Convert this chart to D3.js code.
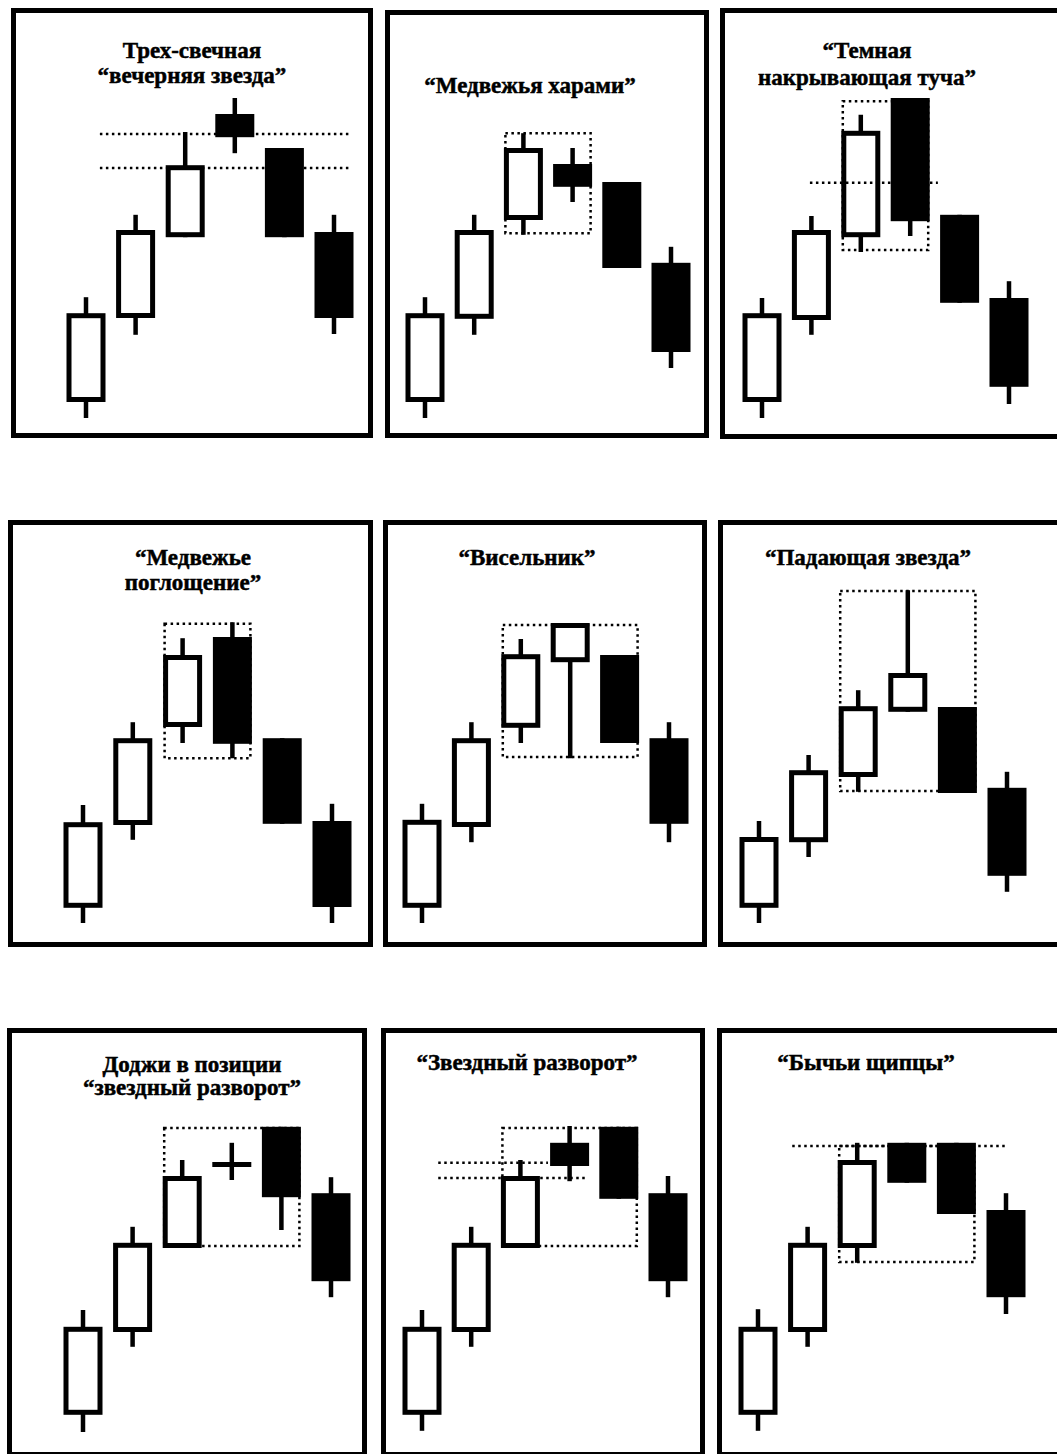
<!DOCTYPE html>
<html>
<head>
<meta charset="utf-8">
<script src="https://cdn.jsdelivr.net/npm/d3@7"></script>
<style>
  body { margin: 0; background: #fff; }
  svg { display: block; }
</style>
</head>
<body>
<div id="chart"></div>
<script>
(function () {

  // titles, one array of lines per panel
  const titles = [
    ['Трех-свечная', '“вечерняя звезда”'],
    ['“Медвежья харами”'],
    ['“Темная', 'накрывающая туча”'],
    ['“Медвежье', 'поглощение”'],
    ['“Висельник”'],
    ['“Падающая звезда”'],
    ['Доджи в позиции', '“звездный разворот”'],
    ['“Звездный разворот”'],
    ['“Бычьи щипцы”']
  ]

  // every candle is [open, high, low, close]
  const eveningStar = [[9, 35.2, 5, 31.2], [30, 55.8, 25.8, 52], [50.2, 76.5, 50.2, 68.2], [81, 85, 71.2, 75.2], [72.5, 72.5, 50.2, 50.2], [51.5, 55.8, 26, 30]]
  const bearishHarami = [[9, 35.2, 5, 31.2], [29.8, 55.8, 25.8, 52], [54.5, 76.2, 50.8, 72.5], [68.5, 72.5, 59, 62.8], [64, 64, 42.5, 42.5], [43.8, 47.8, 17.5, 21.5]]
  const darkCloud = [[9, 35, 5, 31.2], [29.5, 55.5, 25.8, 52], [50.2, 80.8, 46.5, 76.8], [85, 85, 50.5, 54.2], [55.8, 55.8, 33.8, 33.8], [35, 39.2, 8.5, 12.8]]
  const bearishEngulfing = [[9.8, 35.5, 6, 31.2], [30.5, 56.2, 26.8, 52.2], [55, 77.2, 51, 73], [77.5, 81.2, 47.2, 50.8], [52.2, 52.2, 30.8, 30.8], [31.5, 35.8, 6, 10]]
  const hangingMan = [[9.8, 35.8, 6, 31.8], [30, 56.2, 26.2, 52.2], [54.8, 77, 51, 73.2], [71.2, 81, 47.2, 81], [73, 73, 51, 51], [52.2, 56.2, 26.2, 30.8]]
  const shootingStar = [[9.8, 31.5, 6, 27.5], [26.2, 48, 22.5, 44.2], [42.5, 64.2, 38.8, 60.2], [58.8, 89.2, 58.8, 68.5], [60, 60, 38.5, 38.5], [39.8, 43.8, 13.8, 17.8]]
  const dojiStar = [[10.8, 37, 6.5, 32.8], [31.5, 57.8, 27.8, 53.8], [52.5, 74.5, 52.5, 70.5], [74, 78.8, 69.5, 74], [82.8, 82.8, 57, 65.2], [66.2, 70.2, 40.2, 44.2]]
  const starReversal = [[10.8, 37, 6.8, 32.8], [31.5, 57.8, 27.8, 53.8], [52.5, 74.5, 52.5, 70.5], [78.8, 83, 69.2, 73], [82.8, 82.8, 64.8, 64.8], [66.2, 70.5, 40.2, 44.2]]
  const tweezersTop = [[10.8, 37.2, 6.8, 32.8], [31.5, 57.8, 27.8, 53.8], [52.5, 78.8, 48.8, 74.5], [78.8, 78.8, 68.8, 68.8], [78.8, 78.8, 61, 61], [62, 66.2, 36, 40.2]]

  const candleSets = [eveningStar, bearishHarami, darkCloud, bearishEngulfing, hangingMan, shootingStar, dojiStar, starReversal, tweezersTop]

  // dotted boxes round the pattern: [first candle, last candle, top price, bottom price]
  const boxes = [null, [2, 3, 76.2, 51.2], [2, 3, 84.2, 47], [2, 3, 80.8, 47.2], [2, 4, 80.5, 47.5], [2, 4, 89, 39], [2, 4, 82.5, 53], [2, 4, 82.5, 53], [2, 4, 78, 49]]

  // dotted levels: [price, from candle, to candle]
  const levels = [
    [[76, 0.28, 5.3], [67.5, 0.28, 5.3]],
    [],
    [[63.8, 0.97, 3.56]],
    [], [], [], [],
    [[73.8, 0.33, 2.56], [70, 0.33, 3.37]],
    [[78, 0.69, 5.02]]
  ]

  // where the panels sit on the page
  const layout = [
    { frame: [11, 373, 8, 438], cx: [86, 334], base: 438, tx: 192, ty: [58, 83] },
    { frame: [385, 709, 10, 438], cx: [425, 671], base: 438, tx: 530, ty: [93] },
    { frame: [720, 1075, 8, 439], cx: [762, 1009], base: 438, tx: 867, ty: [58, 85] },
    { frame: [8, 373, 520, 947], cx: [83, 332], base: 947, tx: 193, ty: [565, 590] },
    { frame: [383, 707, 520, 947], cx: [422, 669], base: 947, tx: 527, ty: [565] },
    { frame: [718, 1075, 520, 947], cx: [759, 1007], base: 947, tx: 868, ty: [565] },
    { frame: [7, 367, 1028, 1457], cx: [83, 331], base: 1458, tx: 192, ty: [1072, 1095] },
    { frame: [381, 705, 1028, 1457], cx: [422, 668], base: 1458, tx: 527, ty: [1070] },
    { frame: [717, 1075, 1028, 1457], cx: [758, 1006], base: 1458, tx: 866, ty: [1070] }
  ]

  const width = 1057
  const height = 1454
  const bodyWidth = 39
  const border = 5

  const svg = d3.select('#chart').append('svg')
    .attr('width', width)
    .attr('height', height)

  layout.forEach((p, i) => {
    const g = svg.append('g')

    // one price unit is 4px, counted up from the bottom of the row
    const yScale = d3.scaleLinear()
      .domain([0, 100])
      .range([p.base, p.base - 400])

    const xScale = d3.scaleLinear()
      .domain([0, 5])
      .range(p.cx)

    // thick frame
    g.append('rect')
      .attr('x', p.frame[0] + border / 2)
      .attr('y', p.frame[2] + border / 2)
      .attr('width', p.frame[1] - p.frame[0] - border)
      .attr('height', p.frame[3] - p.frame[2] - border)
      .attr('fill', '#fff')
      .attr('stroke', '#000')
      .attr('stroke-width', border)

    // the scan's lettering is heavy, so a thin stroke thickens it a bit
    g.selectAll('text.title')
      .data(titles[i])
      .join('text')
      .attr('class', 'title')
      .attr('x', p.tx)
      .attr('y', (d, j) => p.ty[j])
      .attr('text-anchor', 'middle')
      .attr('font-family', '"Liberation Serif", "Times New Roman", serif')
      .attr('font-weight', 'bold')
      .attr('font-size', 23)
      .attr('stroke', '#000')
      .attr('stroke-width', 0.5)
      .text(d => d)

    // box behind the candles
    const box = boxes[i]
    if (box) {
      g.append('rect')
        .attr('x', xScale(box[0]) - 18)
        .attr('y', yScale(box[2]))
        .attr('width', xScale(box[1]) - xScale(box[0]) + 36)
        .attr('height', yScale(box[3]) - yScale(box[2]))
        .attr('fill', 'none')
        .attr('stroke', '#000')
        .attr('stroke-width', 2.5)
        .attr('stroke-dasharray', '2.5,3.5')
    }

    const data = candleSets[i]

    g.selectAll('line.wick')
      .data(data)
      .join('line')
      .attr('class', 'wick')
      .attr('x1', (d, j) => xScale(j))
      .attr('x2', (d, j) => xScale(j))
      .attr('y1', d => yScale(d[1]))
      .attr('y2', d => yScale(d[2]))
      .attr('stroke', '#000')
      .attr('stroke-width', 4.5)

    // white candles get an outline, black ones are solid
    g.selectAll('rect.body')
      .data(data)
      .join('rect')
      .attr('class', 'body')
      .each(function (d, j) {
        const up = d[3] > d[0]
        const top = yScale(Math.max(d[0], d[3]))
        const h = Math.max(yScale(Math.min(d[0], d[3])) - top, 5)
        const inset = up ? border / 2 : 0
        d3.select(this)
          .attr('x', xScale(j) - bodyWidth / 2 + inset)
          .attr('y', top + inset)
          .attr('width', bodyWidth - inset * 2)
          .attr('height', h - inset * 2)
          .attr('fill', up ? '#fff' : '#000')
          .attr('stroke', up ? '#000' : 'none')
          .attr('stroke-width', up ? border : 0)
      })

    g.selectAll('line.level')
      .data(levels[i])
      .join('line')
      .attr('class', 'level')
      .attr('x1', d => xScale(d[1]))
      .attr('x2', d => xScale(d[2]))
      .attr('y1', d => yScale(d[0]))
      .attr('y2', d => yScale(d[0]))
      .attr('stroke', '#000')
      .attr('stroke-width', 2.5)
      .attr('stroke-dasharray', '2.5,3.5')
  })

})();
</script>
</body>
</html>
